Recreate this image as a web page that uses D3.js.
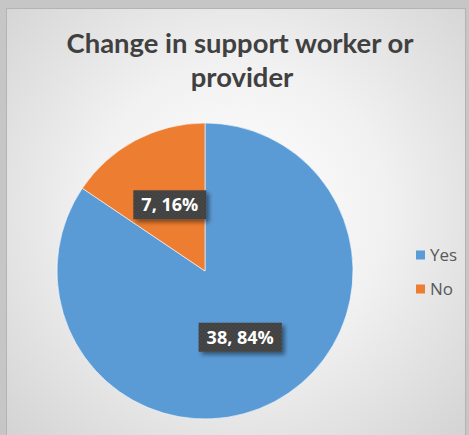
<!DOCTYPE html>
<html><head><meta charset="utf-8">
<script src="https://cdn.jsdelivr.net/npm/d3@7"></script>
<style>html,body{margin:0;padding:0;background:#c9c9c9;}svg{display:block;}</style>
</head><body>
<script>
const categories = ["Yes", "No"];
const values = [38, 7];
const percents = ["84%", "16%"];
const colors = ["#5B9BD5", "#ED7D31"];
const titleLines = ["Change in support worker or", "provider"];

const W = 469, H = 435;
const svg = d3.select("body").append("svg").attr("width", W).attr("height", H);
const defs = svg.append("defs");

const rg = defs.append("radialGradient").attr("id", "bg")
  .attr("gradientUnits", "userSpaceOnUse").attr("cx", 238).attr("cy", 210).attr("r", 330);
rg.append("stop").attr("offset", "0").attr("stop-color", "#ffffff");
rg.append("stop").attr("offset", "0.45").attr("stop-color", "#f1f1f1");
rg.append("stop").attr("offset", "1").attr("stop-color", "#d2d2d2");

const pat = defs.append("pattern").attr("id", "dots").attr("patternUnits", "userSpaceOnUse")
  .attr("width", 4).attr("height", 4);
pat.append("rect").attr("width", 4).attr("height", 4).attr("fill", "#404040");
pat.append("circle").attr("cx", 1).attr("cy", 1).attr("r", 0.9).attr("fill", "#4c4c4c");
pat.append("circle").attr("cx", 3).attr("cy", 3).attr("r", 0.9).attr("fill", "#4a4a4a");

const sh = defs.append("filter").attr("id", "shadow").attr("x", "-20%").attr("y", "-30%").attr("width", "150%").attr("height", "180%");
sh.append("feDropShadow").attr("dx", 3).attr("dy", 3).attr("stdDeviation", 2).attr("flood-color", "#000").attr("flood-opacity", 0.45);

// frame
svg.append("rect").attr("x", 0).attr("y", 0).attr("width", W).attr("height", H).attr("fill", "#c6c6c6");
svg.append("rect").attr("x", 6.5).attr("y", 8.5).attr("width", 459).attr("height", 440)
  .attr("fill", "url(#bg)").attr("stroke", "#b4b4b4").attr("stroke-width", 1);

// title
const title = svg.append("text").attr("text-anchor", "middle")
  .attr("font-family", "Lato").attr("font-weight", "bold").attr("fill", "#404040");
let fs = 24;
title.attr("font-size", fs);
const l1 = title.append("tspan").attr("x", 240).attr("y", 53).text(titleLines[0]);
const w1 = l1.node().getComputedTextLength();
fs = fs * 347 / w1;
title.attr("font-size", fs);
title.append("tspan").attr("x", 242).attr("y", 87).text(titleLines[1]);

// pie
const cx = 205, cy = 271, R = 148;
const pie = d3.pie().sort(null).value(d => d)(values);
const arc = d3.arc().innerRadius(0).outerRadius(R);
const labelArc = d3.arc().innerRadius(75).outerRadius(75);
const g = svg.append("g").attr("transform", `translate(${cx},${cy})`);
g.selectAll("path").data(pie).join("path")
  .attr("d", arc).attr("fill", (d, i) => colors[i])
  .attr("stroke", "#ffffff").attr("stroke-width", 0.6);

const lab = g.selectAll("g.lab").data(pie).join("g").attr("class", "lab")
  .attr("transform", d => { const c = labelArc.centroid(d); return `translate(${c[0]},${c[1]})`; });
lab.each(function(d, i) {
  const s = d3.select(this);
  const r = s.append("rect").attr("fill", "url(#dots)").attr("filter", "url(#shadow)");
  const t = s.append("text").attr("text-anchor", "middle").attr("dy", "0.36em")
    .attr("font-family", "Open Sans").attr("font-weight", "bold").attr("font-size", 18)
    .attr("fill", "#ffffff").text(values[i] + ", " + percents[i]);
  const w = t.node().getComputedTextLength();
  r.attr("x", -w / 2 - 8).attr("y", -14.5).attr("width", w + 16).attr("height", 29);
});

// legend
const leg = svg.append("g").selectAll("g").data(categories).join("g")
  .attr("transform", (d, i) => `translate(416,${255 + i * 34})`);
leg.append("rect").attr("x", 0).attr("y", -4.5).attr("width", 9).attr("height", 9)
  .attr("fill", (d, i) => colors[i]);
leg.append("text").attr("x", 14).attr("dy", "0.36em")
  .attr("font-family", "Open Sans").attr("font-size", 17).attr("fill", "#595959").text(d => d);
</script>
</body></html>
